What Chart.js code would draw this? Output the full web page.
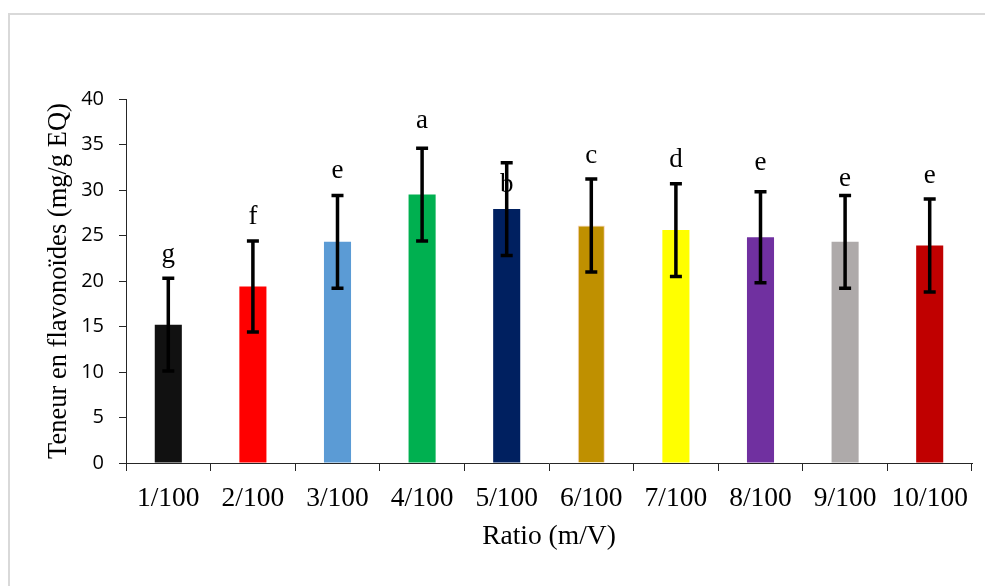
<!DOCTYPE html>
<html>
<head>
<meta charset="utf-8">
<script src="https://cdn.jsdelivr.net/npm/chart.js@4/dist/chart.umd.min.js"></script>
<style>
    html, body { margin: 0; padding: 0; background: #fff; }
    #wrap { width: 985px; height: 586px; }
</style>
</head>
<body>
<div id="wrap"><canvas id="chart" width="985" height="586"></canvas></div>
<script>
// Données
const ratios = ['1/100', '2/100', '3/100', '4/100', '5/100', '6/100', '7/100', '8/100', '9/100', '10/100'];
const teneurs = [15.2, 19.4, 24.3, 29.5, 27.9, 26.1, 25.6, 24.8, 24.3, 23.9];
const ecarts = [5.1, 5.0, 5.1, 5.1, 5.1, 5.1, 5.1, 5.0, 5.1, 5.1];
const lettres = ['g', 'f', 'e', 'a', 'b', 'c', 'd', 'e', 'e', 'e'];
const lettresY = [22.1, 26.3, 31.3, 36.8, 29.8, 33.0, 32.5, 32.2, 30.4, 30.8];
const couleurs = ['#111111', '#FF0000', '#5B9BD5', '#00B050', '#002060', '#BF9000', '#FFFF00', '#7030A0', '#AEAAAA', '#C00000'];
const yTicks = [0, 5, 10, 15, 20, 25, 30, 35, 40];

const serif = "'Liberation Serif', 'Times New Roman', serif";
const axisColor = '#262626';

// Cadre gris autour du graphique
const cadrePlugin = {
    id: 'cadre',
    beforeDraw(chart) {
        const ctx = chart.ctx;
        ctx.save();
        ctx.strokeStyle = '#D9D9D9';
        ctx.lineWidth = 2;
        ctx.beginPath();
        ctx.moveTo(9, chart.height);
        ctx.lineTo(9, 14);
        ctx.lineTo(chart.width, 14);
        ctx.stroke();
        ctx.restore();
    }
};

// Barres d'erreur et lettres de significativité
const erreurPlugin = {
    id: 'erreurs',
    afterDatasetsDraw(chart) {
        const ctx = chart.ctx;
        const y = chart.scales.y;
        const meta = chart.getDatasetMeta(0);
        ctx.save();
        ctx.strokeStyle = '#000';
        ctx.lineWidth = 3.5;
        meta.data.forEach((bar, i) => {
            const x = bar.x;
            const haut = y.getPixelForValue(teneurs[i] + ecarts[i]);
            const bas = y.getPixelForValue(teneurs[i] - ecarts[i]);
            ctx.beginPath();
            ctx.moveTo(x, haut);
            ctx.lineTo(x, bas);
            ctx.moveTo(x - 6, haut);
            ctx.lineTo(x + 6, haut);
            ctx.moveTo(x - 6, bas);
            ctx.lineTo(x + 6, bas);
            ctx.stroke();
        });
        ctx.fillStyle = '#000';
        ctx.font = '27px ' + serif;
        ctx.textAlign = 'center';
        ctx.textBaseline = 'alphabetic';
        meta.data.forEach((bar, i) => {
            ctx.fillText(lettres[i], bar.x, y.getPixelForValue(lettresY[i]));
        });
        ctx.restore();
    }
};

const ctx = document.getElementById('chart');
new Chart(ctx, {
    type: 'bar',
    data: {
        labels: ratios,
        datasets: [{
            data: teneurs,
            backgroundColor: couleurs,
            borderColor: couleurs.map((c, i) => i === 5 ? 'rgba(237,125,49,0.35)' : c),
            borderWidth: couleurs.map((c, i) => i === 5 ? 1 : 0),
            barPercentage: 0.32,
            categoryPercentage: 1
        }]
    },
    options: {
        responsive: false,
        animation: false,
        layout: { padding: { top: 99, right: 13, left: 0, bottom: 0 } },
        plugins: {
            legend: { display: false },
            tooltip: { enabled: false }
        },
        scales: {
            x: {
                afterFit: function(scale) { scale.height = 123; },
                grid: {
                    offset: true,
                    drawOnChartArea: false,
                    drawTicks: true,
                    tickLength: 8,
                    color: axisColor
                },
                border: { display: true, color: axisColor, width: 1 },
                ticks: {
                    color: '#000',
                    padding: 11,
                    maxRotation: 0,
                    autoSkip: false,
                    font: { family: serif, size: 27.5 }
                },
                title: {
                    display: true,
                    text: 'Ratio (m/V)',
                    color: '#000',
                    padding: { top: 0, bottom: 33 },
                    font: { family: serif, size: 27.5 }
                }
            },
            y: {
                min: 0,
                max: 40,
                afterFit: function(scale) { scale.width = 126; },
                afterBuildTicks: function(scale) {
                    scale.ticks = yTicks.map(v => ({ value: v }));
                },
                grid: {
                    drawOnChartArea: false,
                    drawTicks: true,
                    tickLength: 7,
                    color: axisColor
                },
                border: { display: true, color: axisColor, width: 1 },
                ticks: {
                    color: '#000',
                    padding: 15,
                    font: { family: "'Open Sans', 'Noto Sans', sans-serif", size: 20 }
                },
                title: {
                    display: true,
                    text: 'Teneur en flavonoïdes (mg/g EQ)',
                    color: '#000',
                    padding: { top: 43, bottom: 0 },
                    font: { family: serif, size: 26.5 }
                }
            }
        }
    },
    plugins: [cadrePlugin, erreurPlugin]
});
</script>
</body>
</html>
